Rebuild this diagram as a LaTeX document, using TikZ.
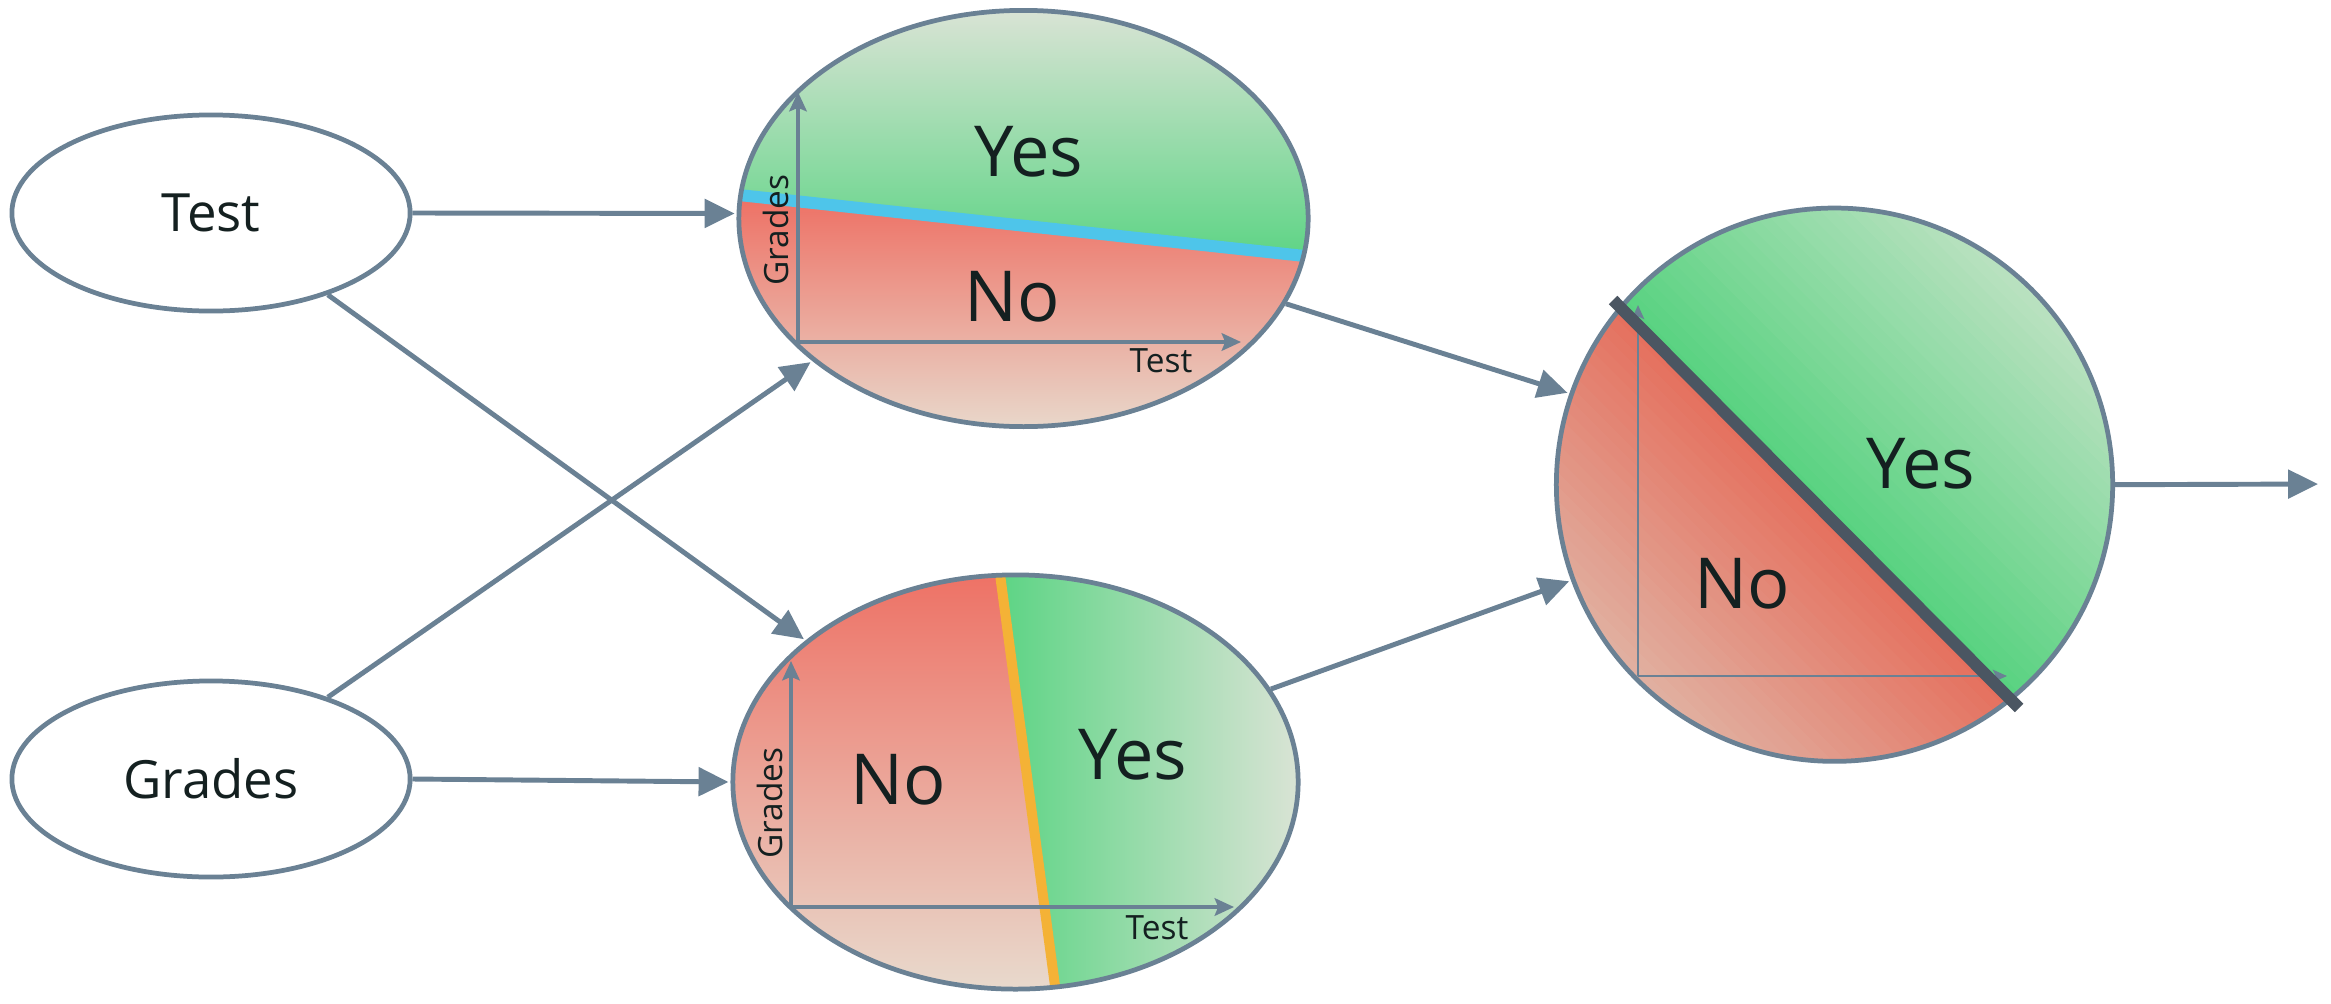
\documentclass[tikz,border=0pt]{standalone}
\usepackage{fontspec}
\setmainfont{Open Sans}
\usetikzlibrary{arrows.meta,shapes.geometric}
\definecolor{edge}{RGB}{106,129,148}
\definecolor{gsat}{RGB}{92,212,132}
\definecolor{glight}{RGB}{222,228,216}
\definecolor{rsat}{RGB}{238,110,98}
\definecolor{rlight}{RGB}{232,221,208}
\definecolor{gsatc}{RGB}{88,210,128}
\definecolor{gfar}{RGB}{190,226,195}
\definecolor{rsatc}{RGB}{229,112,94}
\definecolor{rfar}{RGB}{224,180,165}
\definecolor{band}{RGB}{78,197,234}
\definecolor{orng}{RGB}{244,178,54}
\definecolor{dark}{RGB}{75,86,98}
\definecolor{ink}{RGB}{20,32,32}
\begin{document}
\begin{tikzpicture}[x=0.01cm,y=-0.01cm,
  oval/.style={ellipse, draw=edge, line width=1.35pt, inner sep=0pt},
  conn/.style={draw=edge, line width=1.4pt, shorten >=0.02cm, -{Triangle[length=8.5pt,width=8pt]}},
  axisline/.style={draw=edge, line width=1pt, -{Stealth[length=5.5pt,width=5pt,inset=1pt]}},
  thinaxis/.style={draw=edge, line width=0.75pt, -{Stealth[length=4pt,width=3.5pt,inset=0.8pt]}},
  big/.style={font=\fontsize{20}{24}\selectfont, text=ink},
  small/.style={font=\fontsize{9.5}{11}\selectfont, text=ink},
  lbl/.style={font=\fontsize{15}{18}\selectfont, text=ink}]
\useasboundingbox[fill=white] (0,0) rectangle (2331,1003);

% ---- top ellipse fills
\begin{scope}
  \clip (1023.5,218.5) ellipse [x radius=284.5, y radius=208];
  \shade[top color=glight, bottom color=gsat] (700,0) -- (1350,0) -- (1350,260.9) -- (700,190.8) -- cycle;
  \shade[top color=rsat, bottom color=rlight] (700,190.8) -- (1350,260.9) -- (1350,440) -- (700,440) -- cycle;
  \draw[band, line width=0.12cm] (700,190.8) -- (1350,260.9);
\end{scope}
% ---- bottom ellipse fills
\begin{scope}
  \clip (1015.5,782) ellipse [x radius=282.5, y radius=207];
  \shade[top color=rsat, bottom color=rlight] (720,560) -- (998.1,560) -- (1057.3,1003) -- (720,1003) -- cycle;
  \shade[left color=gsat, right color=glight] (998.1,560) -- (1310,560) -- (1310,1003) -- (1057.3,1003) -- cycle;
  \draw[orng, line width=0.1cm] (998.1,560) -- (1057.3,1003);
\end{scope}
% ---- circle fills (gradient strips parallel to the boundary)
\begin{scope}
  \clip (1834.5,484.7) ellipse [x radius=278, y radius=276.5];
  \foreach \k in {0,...,31}{
    \pgfmathsetmacro\da{10*\k}
    \pgfmathsetmacro\db{10*\k+11}
    \pgfmathtruncatemacro\p{100*(1-\k/31)}
    \fill[gsatc!\p!gfar] ({1816+0.7071*(\da-400)},{504-0.7071*(\da+400)}) -- ({1816+0.7071*(\da+400)},{504-0.7071*(\da-400)}) -- ({1816+0.7071*(\db+400)},{504-0.7071*(\db-400)}) -- ({1816+0.7071*(\db-400)},{504-0.7071*(\db+400)}) -- cycle;
  }
  \foreach \k in {0,...,26}{
    \pgfmathsetmacro\da{-10*\k}
    \pgfmathsetmacro\db{-10*\k-11}
    \pgfmathtruncatemacro\p{100*(1-\k/26)}
    \fill[rsatc!\p!rfar] ({1816+0.7071*(\da-400)},{504-0.7071*(\da+400)}) -- ({1816+0.7071*(\da+400)},{504-0.7071*(\da-400)}) -- ({1816+0.7071*(\db+400)},{504-0.7071*(\db-400)}) -- ({1816+0.7071*(\db-400)},{504-0.7071*(\db+400)}) -- cycle;
  }
\end{scope}

% ---- axes
\draw[axisline] (798,342) -- (798,92);
\draw[axisline] (798,342) -- (1241,342);
\draw[axisline] (791,907) -- (791,661);
\draw[axisline] (791,907) -- (1234,907);
\draw[thinaxis] (1638,676) -- (1638,305);
\draw[thinaxis] (1638,676) -- (2007,676);

% ---- nodes
\node[oval, minimum width=3.98cm, minimum height=1.96cm, lbl] (test) at (211,213) {Test};
\node[oval, minimum width=3.98cm, minimum height=1.96cm, lbl] (grades) at (211,779) {Grades};
\node[oval, minimum width=5.69cm, minimum height=4.16cm] (top) at (1023.5,218.5) {};
\node[oval, minimum width=5.65cm, minimum height=4.14cm] (bot) at (1015.5,782) {};
\node[oval, minimum width=5.56cm, minimum height=5.53cm] (circ) at (1834.5,484.7) {};
\coordinate (out) at (2320,484);

% ---- dark boundary in circle
\draw[dark, line width=0.12cm] (1613,300) -- (2019,708);

% ---- labels
\node[big] (tyes) at (1029,152) {Yes};
\node[big] (tno) at (1012,297) {No};
\node[small, rotate=90] (tgr) at (776,230) {Grades};
\node[small] (tte) at (1161,361) {Test};
\node[big] (bno) at (898,780) {No};
\node[big] (byes) at (1133,755) {Yes};
\node[small, rotate=90] (bgr) at (770,803) {Grades};
\node[small] (bte) at (1157,928) {Test};
\node[big] (cyes) at (1921,464) {Yes};
\node[big] (cno) at (1742,584) {No};

% ---- connectors
\draw[conn] (test.0) -- (top.179.5);
\draw[conn] (test.-35) -- (bot.146.5);
\draw[conn] (grades.35.5) -- (top.214.5);
\draw[conn] (grades.0) -- (bot.180.5);
\draw[conn] (top.-18) -- (circ.161);
\draw[conn] (bot.20) -- (circ.200.6);
\draw[conn] (circ.0) -- (out);
\end{tikzpicture}
\end{document}
